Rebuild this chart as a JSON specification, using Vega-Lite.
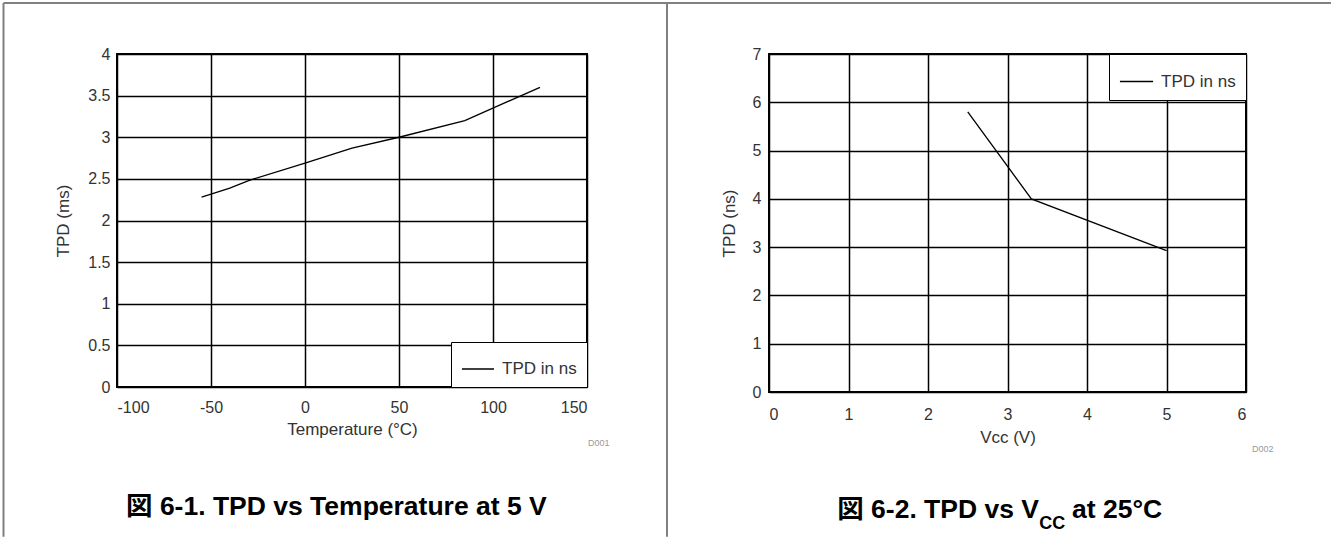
{
  "$schema": "https://vega.github.io/schema/vega-lite/v6.json",
  "autosize": {"type": "pad"},
  "padding": {"left": 1, "top": 1, "right": 0, "bottom": 0},
  "background": "white",
  "bounds": "flush",
  "spacing": 182,
  "config": {
    "font": "Liberation Sans",
    "view": {"stroke": "black", "strokeWidth": 2},
    "axis": {
      "grid": true, "gridColor": "black", "gridWidth": 1.5, "gridOpacity": 1,
      "domain": false, "ticks": false, "tickSize": 0,
      "labelFont": "Liberation Sans", "labelFontSize": 16, "labelColor": "#333333",
      "titleFont": "Liberation Sans", "titleFontSize": 17, "titleFontWeight": "normal", "titleColor": "#333333",
      "labelOverlap": false
    }
  },
  "resolve": {"scale": {"color": "independent"}, "legend": {"color": "independent"}},
  "hconcat": [
    {
      "width": 470,
      "height": 333,
      "layer": [
        {
          "data": {"values": [
            {"temp": -55, "tpd": 2.28},
            {"temp": -40, "tpd": 2.39},
            {"temp": -30, "tpd": 2.48},
            {"temp": 0, "tpd": 2.69},
            {"temp": 25, "tpd": 2.87},
            {"temp": 50, "tpd": 3.0},
            {"temp": 85, "tpd": 3.2},
            {"temp": 125, "tpd": 3.6}
          ]},
          "mark": {"type": "line", "strokeWidth": 1.3},
          "encoding": {
            "x": {"field": "temp", "type": "quantitative",
                  "scale": {"domain": [-100, 150], "nice": false, "zero": false},
                  "axis": {"values": [-100, -50, 0, 50, 100, 150], "labelExpr": "datum.value + ''",
                           "labelPadding": 12, "titlePadding": 6, "title": "Temperature (°C)"}},
            "y": {"field": "tpd", "type": "quantitative",
                  "scale": {"domain": [0, 4], "nice": false, "zero": false},
                  "axis": {"values": [0, 0.5, 1, 1.5, 2, 2.5, 3, 3.5, 4], "labelExpr": "datum.value + ''",
                           "labelPadding": 7, "titlePadding": 15, "title": "TPD (ms)"}},
            "color": {"datum": "TPD in ns", "scale": {"range": ["black"]},
                      "legend": {"title": null, "orient": "bottom-right", "offset": 0, "padding": 10,
                                 "fillColor": "white", "strokeColor": "black",
                                 "symbolType": "stroke", "symbolSize": 1024, "symbolStrokeWidth": 1.5,
                                 "labelFontSize": 17, "labelOffset": 7, "labelColor": "#333333",
                                 "labelFont": "Liberation Sans"}}
          }
        },
        {
          "data": {"values": [{"label": "図 6-1. TPD vs Temperature at 5 V"}]},
          "mark": {"type": "text", "align": "left", "baseline": "alphabetic", "fontSize": 26.5,
                   "fontWeight": "bold", "font": "Liberation Sans, Noto Sans CJK JP", "color": "black"},
          "encoding": {"x": {"datum": -95.2}, "y": {"datum": -1.5375}, "text": {"field": "label"}}
        },
        {
          "data": {"values": [{"label": "D001"}]},
          "mark": {"type": "text", "align": "left", "baseline": "middle", "fontSize": 9, "color": "#9a9a9a"},
          "encoding": {"x": {"datum": 150.5}, "y": {"datum": -0.673}, "text": {"field": "label"}}
        },
        {
          "data": {"values": [{}]},
          "mark": {"type": "rule", "color": "#808080", "strokeWidth": 2},
          "encoding": {"x": {"datum": -160.37}, "y": {"datum": 4.6126}, "y2": {"datum": -1.8}}
        },
        {
          "data": {"values": [{}]},
          "mark": {"type": "rule", "color": "#808080", "strokeWidth": 2},
          "encoding": {"x": {"datum": -160.37}, "x2": {"datum": 192.55}, "y": {"datum": 4.6126}}
        },
        {
          "data": {"values": [{}]},
          "mark": {"type": "rule", "color": "#808080", "strokeWidth": 2},
          "encoding": {"x": {"datum": 192.55}, "y": {"datum": 4.6126}, "y2": {"datum": -1.8}}
        }
      ]
    },
    {
      "width": 477,
      "height": 338,
      "layer": [
        {
          "data": {"values": [
            {"vcc": 2.5, "tpd": 5.8},
            {"vcc": 3.3, "tpd": 4.0},
            {"vcc": 5.0, "tpd": 2.93}
          ]},
          "mark": {"type": "line", "strokeWidth": 1.3},
          "encoding": {
            "x": {"field": "vcc", "type": "quantitative",
                  "scale": {"domain": [0, 6], "nice": false, "zero": false},
                  "axis": {"values": [0, 1, 2, 3, 4, 5, 6], "labelExpr": "datum.value + ''",
                           "labelPadding": 14, "titlePadding": 7, "title": "Vcc (V)"}},
            "y": {"field": "tpd", "type": "quantitative",
                  "scale": {"domain": [0, 7], "nice": false, "zero": false},
                  "axis": {"values": [0, 1, 2, 3, 4, 5, 6, 7], "labelExpr": "datum.value + ''",
                           "labelPadding": 8, "titlePadding": 14, "title": "TPD (ns)"}},
            "color": {"datum": "TPD in ns", "scale": {"range": ["black"]},
                      "legend": {"title": null, "orient": "top-right", "offset": 0, "padding": 10,
                                 "fillColor": "white", "strokeColor": "black",
                                 "symbolType": "stroke", "symbolSize": 1100, "symbolStrokeWidth": 1.5,
                                 "labelFontSize": 17, "labelOffset": 7, "labelColor": "#333333",
                                 "labelFont": "Liberation Sans"}}
          }
        },
        {
          "data": {"values": [{"label": "図 6-2. TPD vs V"}]},
          "mark": {"type": "text", "align": "right", "baseline": "alphabetic", "fontSize": 26.5,
                   "fontWeight": "bold", "font": "Liberation Sans, Noto Sans CJK JP", "color": "black"},
          "encoding": {"x": {"datum": 3.396}, "y": {"datum": -2.6095}, "text": {"field": "label"}}
        },
        {
          "data": {"values": [{"label": "CC"}]},
          "mark": {"type": "text", "align": "left", "baseline": "alphabetic", "fontSize": 18,
                   "fontWeight": "bold", "font": "Liberation Sans", "color": "black"},
          "encoding": {"x": {"datum": 3.40}, "y": {"datum": -2.83}, "text": {"field": "label"}}
        },
        {
          "data": {"values": [{"label": "at 25°C"}]},
          "mark": {"type": "text", "align": "left", "baseline": "alphabetic", "fontSize": 26.5,
                   "fontWeight": "bold", "font": "Liberation Sans", "color": "black"},
          "encoding": {"x": {"datum": 3.811}, "y": {"datum": -2.6095}, "text": {"field": "label"}}
        },
        {
          "data": {"values": [{"label": "D002"}]},
          "mark": {"type": "text", "align": "left", "baseline": "middle", "fontSize": 9, "color": "#9a9a9a"},
          "encoding": {"x": {"datum": 6.0755}, "y": {"datum": -1.1805}, "text": {"field": "label"}}
        },
        {
          "data": {"values": [{}]},
          "mark": {"type": "rule", "color": "#808080", "strokeWidth": 2},
          "encoding": {"x": {"datum": -1.283}, "x2": {"datum": 7.069}, "y": {"datum": 8.056}}
        }
      ]
    }
  ]
}
